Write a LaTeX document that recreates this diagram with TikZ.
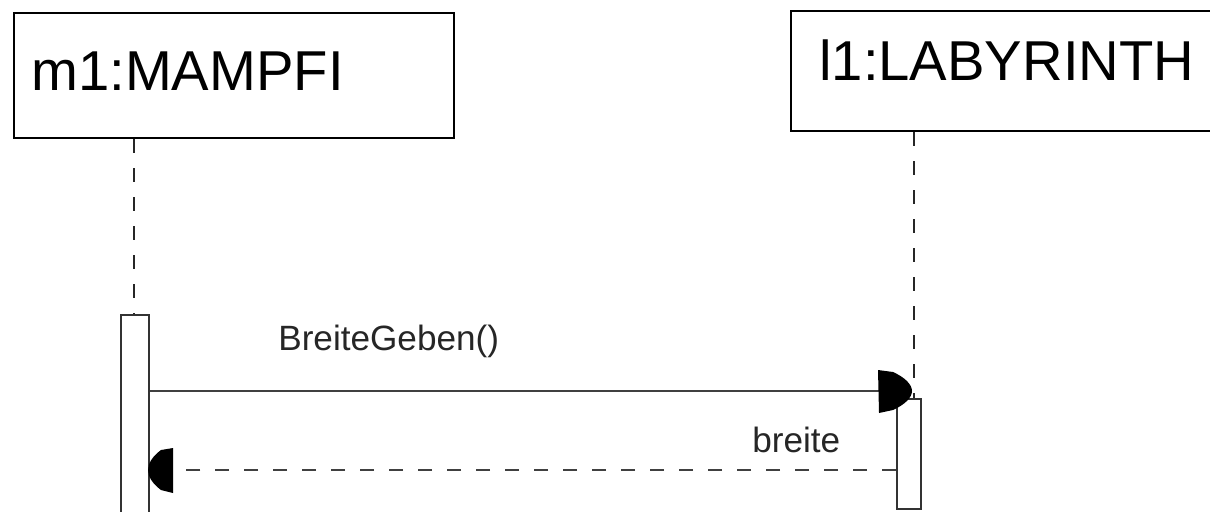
\documentclass[tikz,border=0pt]{standalone}
\usepackage{fontspec}
\setmainfont{Liberation Sans}
\begin{document}
\begin{tikzpicture}[x=0.02cm,y=-0.02cm,
  objbox/.style={draw=black, line width=1.4pt, fill=white, inner sep=0pt, anchor=north west},
  objtext/.style={inner sep=0pt, anchor=base west, font=\fontsize{32}{38}\selectfont},
  actbox/.style={draw=black!80, line width=1pt, fill=white, inner sep=0pt, anchor=north west},
  lifeline/.style={draw=black!85, line width=1.1pt, dash pattern=on 8pt off 8.5pt},
  msg/.style={draw=black!75, line width=1.2pt},
  retmsg/.style={draw=black!75, line width=1.2pt, dash pattern=on 8pt off 8.5pt},
  msgtext/.style={inner sep=0pt, anchor=base west, font=\fontsize{20}{24}\selectfont, text=black!85},
  head/.style={fill=black}
]
\useasboundingbox (0,0) rectangle (1210,511);
\clip (0,0) rectangle (1210,511);

% object boxes
\node[objbox, minimum width=8.8cm, minimum height=2.5cm] (m1) at (13,12) {};
\node[objtext] (m1t) at (31,90) {m1:MAMPFI};
\node[objbox, minimum width=8.8cm, minimum height=2.4cm] (l1) at (790,10) {};
\node[objtext] (l1t) at (819,80) {l1:LABYRINTH};

% activation boxes
\node[actbox, minimum width=0.56cm, minimum height=4.2cm] (a1) at (120,314) {};
\node[actbox, minimum width=0.48cm, minimum height=2.2cm] (a2) at (896,398) {};

% lifelines
\coordinate (ll1) at (134,0);
\coordinate (ll2) at (914,0);
\draw[lifeline] (m1.south -| ll1) -- (a1.north -| ll1);
\draw[lifeline] (l1.south -| ll2) -- (a2.north -| ll2);

% message 1
\coordinate (t1) at (912,391);
\coordinate (b1) at (880,391);
\draw[msg] (a1.east |- b1) -- (b1);
\fill[head, shift={(t1)}] (-34,-21) -- (-19,-19) .. controls (-8,-14) and (0,-7) .. (0,0)
   .. controls (0,7) and (-8,14) .. (-19,19) -- (-33,22) -- cycle;
\node[msgtext] (l1msg) at (278,350) {BreiteGeben()};

% message 2 (return)
\coordinate (t2) at (148,470);
\coordinate (b2) at (172,470);
\draw[retmsg] (a2.west |- b2) -- (b2);
\fill[head, shift={(t2)}] (25,-22) -- (13,-20) .. controls (5,-14) and (0,-7) .. (0,0)
   .. controls (0,7) and (5,14) .. (13,20) -- (25,23) -- cycle;
\node[msgtext] (l2msg) at (752,452) {breite};
\end{tikzpicture}
\end{document}
